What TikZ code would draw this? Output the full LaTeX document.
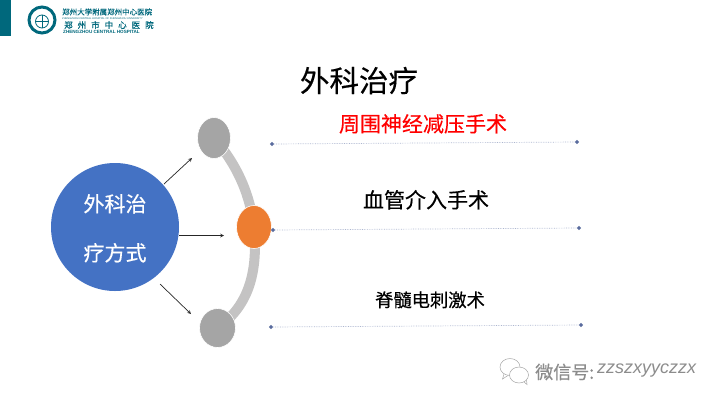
\documentclass[tikz,border=0pt]{standalone}
\usepackage{fontspec}
\usepackage{xcolor}
\setmainfont{Liberation Sans}
\newfontfamily\cjk[FakeBold=0.35]{Noto Sans CJK SC}
\usetikzlibrary{arrows,positioning,shapes.geometric}
\definecolor{tealbar}{HTML}{00687C}
\definecolor{blobblue}{HTML}{4472C4}
\definecolor{bloborange}{HTML}{ED7D31}
\definecolor{blobgray}{HTML}{A5A5A5}
\definecolor{bandgray}{HTML}{C4C3C3}
\definecolor{dotblue}{HTML}{5A6C9E}
\tikzset{
blob/.style={ellipse,draw=white,line width=0.6pt,inner sep=0pt},
cntext/.style={font=\cjk,inner sep=0pt,text height=0.88em,text depth=0.12em},
dotend/.style={diamond,fill=dotblue,minimum size=4.5pt,inner sep=0pt},
arrowline/.style={black!85,line width=0.7pt},
dotline/.style={dotblue!50,densely dotted,line width=0.7pt},
}
\newcommand{\cnsize}[1]{\fontsize{#1}{#1}\selectfont}
\begin{document}
\begin{tikzpicture}[x=1pt,y=-1pt]
\useasboundingbox (0,0) rectangle (720,405);
% logo
\fill[tealbar] (0,0) rectangle (10.5,35.5);
\node[circle,draw=tealbar,line width=3pt,fill=white,minimum size=26pt,inner sep=0pt] (seal) at (42,20) {};
\node[circle,draw=tealbar,line width=0.8pt,minimum size=13pt,inner sep=0pt] (sealin) at (42,21.5) {};
\draw[tealbar,line width=1pt] (sealin.north) -- (sealin.south) (36,21.5) -- (48,21.5);
\node[cntext,text=tealbar,anchor=west] (logoa) at (62,11) {\cnsize{7.5}郑州大学附属郑州中心医院};
\node[inner sep=0pt,text=tealbar,anchor=west] (logob) at (62,18.5) {\cnsize{2.6}ZHENGZHOU CENTRAL HOSPITAL OF ZHENGZHOU UNIVERSITY};
\node[cntext,text=tealbar,anchor=west] (logoc) at (64,24.5) {\cnsize{8.5}郑\hspace{5pt}州\hspace{5pt}市\hspace{5pt}中\hspace{5pt}心\hspace{5pt}医\hspace{5pt}院};
\node[inner sep=0pt,text=tealbar,anchor=west] (logod) at (63,31.5) {\cnsize{4.6}\bfseries ZHENGZHOU CENTRAL HOSPITAL};
% title
\node[cntext] (title) at (359,88) {\cnsize{29.5}外科治疗};
% band behind the small circles
\coordinate (bandtop) at (214,138);
\coordinate (bandbot) at (217.5,328);
\coordinate (bandmid) at (254,227);
\draw[bandgray,line width=10pt] (bandtop) .. controls (238,166) and (250,195) .. (bandmid);
\draw[bandgray,line width=10pt] (bandmid) .. controls (258,270) and (250,305) .. (bandbot);
% circles
\node[blob,fill=blobgray,minimum width=33pt,minimum height=41pt] (top) at (214,138) {};
\node[blob,fill=bloborange,minimum width=35pt,minimum height=43pt] (mid) at (254,227) {};
\node[blob,fill=blobgray,minimum width=36pt,minimum height=39pt] (bot) at (217.5,328) {};
\node[circle,fill=blobblue,minimum size=128pt,inner sep=0pt] (main) at (115,227) {};
\node[cntext,text=white] (maina) at (115,208) {\cnsize{21}外科治};
\node[cntext,text=white] (mainb) at (115,257) {\cnsize{21}疗方式};
% arrows
\coordinate (arra) at (164,184);
\coordinate (arrb) at (192,158);
\coordinate (arrc) at (179,235.5);
\coordinate (arrd) at (224,235.5);
\coordinate (arre) at (160,284);
\coordinate (arrf) at (191,314);
\path[->,>=stealth](arra) edge[arrowline] (arrb);
\path[->,>=stealth](arrc) edge[arrowline] (arrd);
\path[->,>=stealth](arre) edge[arrowline] (arrf);
% labels and their dotted lines
\node[cntext,text=red] (laba) at (423,128) {\cnsize{21}周围神经减压手术};
\node[dotend] (la) at (272,144) {};
\node[dotend] (ra) at (577,142) {};
\draw[dotline] (la) -- (ra);
\node[cntext] (labb) at (426,204) {\cnsize{21}血管介入手术};
\node[dotend] (lb) at (273,230) {};
\node[dotend] (rb) at (579,228) {};
\draw[dotline] (lb) -- (rb);
\node[cntext] (labc) at (430,303) {\cnsize{18.3}脊髓电刺激术};
\node[dotend] (lc) at (271,327) {};
\node[dotend] (rc) at (581,325) {};
\draw[dotline] (lc) -- (rc);
% watermark
\begin{scope}[draw=black!35,line width=0.5pt]
\draw[fill=white] (510,367) ellipse (10pt and 8.5pt);
\draw (504,374) -- (502.5,379) -- (508,375.5);
\draw[fill=white] (519,375) ellipse (9.5pt and 8pt);
\draw (524,382) -- (527,384.5) -- (526.5,380);
\end{scope}
\node[cntext,text=black!45,anchor=west] (wxa) at (535,375) {\cnsize{18}微信号:};
\node[inner sep=0pt,text=black!45,anchor=west] (wxb) at (597,371) {\cnsize{18}\itshape zzszxyyczzx};
\end{tikzpicture}
\end{document}
